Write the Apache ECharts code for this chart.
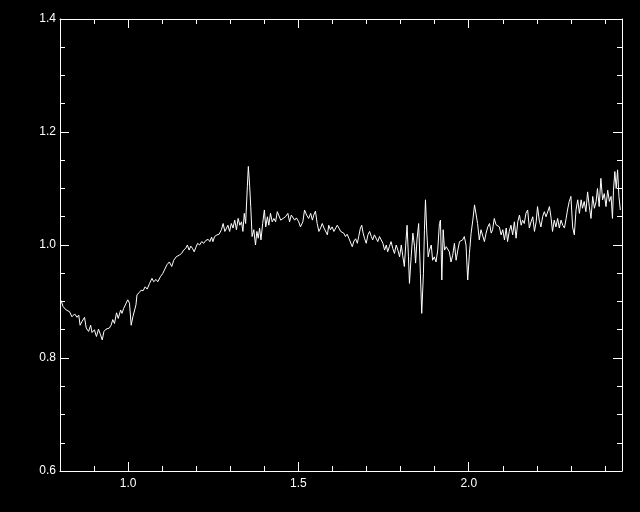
<!DOCTYPE html>
<html>
<head>
<meta charset="utf-8">
<script src="https://cdn.jsdelivr.net/npm/echarts@6/dist/echarts.min.js"></script>
<style>
html,body{margin:0;padding:0;background:#000;}
#chart{width:640px;height:512px;}
</style>
</head>
<body>
<div id="chart"></div>
<script>
// Spectrum samples: [wavelength, relative flux]
const spectrum = [
[0.803,0.902],[0.809,0.891],[0.818,0.885],[0.828,0.882],[0.835,0.873],[0.843,0.878],[0.850,0.872],[0.855,0.876],[0.859,0.858],[0.864,0.864],[0.872,0.872],[0.877,0.853],[0.884,0.847],[0.890,0.858],[0.894,0.845],[0.901,0.850],[0.907,0.838],[0.913,0.851],[0.919,0.841],[0.924,0.832],[0.929,0.847],[0.935,0.851],[0.940,0.854],[0.945,0.853],[0.950,0.858],[0.955,0.868],[0.960,0.861],[0.966,0.880],[0.971,0.870],[0.978,0.885],[0.982,0.879],[0.987,0.888],[0.992,0.891],[0.999,0.903],[1.004,0.897],[1.009,0.858],[1.014,0.873],[1.019,0.876],[1.023,0.894],[1.026,0.912],[1.033,0.916],[1.038,0.920],[1.044,0.919],[1.050,0.926],[1.056,0.922],[1.063,0.932],[1.070,0.941],[1.075,0.935],[1.082,0.939],[1.087,0.935],[1.095,0.944],[1.102,0.950],[1.107,0.947],[1.114,0.965],[1.121,0.970],[1.128,0.962],[1.134,0.973],[1.141,0.979],
[1.150,0.982],[1.157,0.985],[1.163,0.991],[1.169,0.994],[1.174,1.000],[1.179,0.991],[1.184,0.998],[1.189,0.994],[1.194,0.988],[1.199,0.996],[1.204,1.003],[1.210,1.000],[1.216,1.006],[1.222,1.003],[1.228,1.008],[1.235,1.010],[1.240,1.006],[1.245,1.014],[1.249,1.006],[1.254,1.015],[1.261,1.018],[1.267,1.019],[1.274,1.027],[1.279,1.038],[1.284,1.024],[1.289,1.030],[1.293,1.035],[1.298,1.024],[1.303,1.038],[1.308,1.030],[1.313,1.044],[1.318,1.027],[1.323,1.047],[1.328,1.035],[1.333,1.041],[1.337,1.024],[1.341,1.056],[1.345,1.038],[1.350,1.103],[1.353,1.139],[1.357,1.103],[1.360,1.068],[1.364,1.015],[1.369,1.027],[1.374,1.000],[1.378,1.024],[1.382,1.012],[1.386,1.030],[1.390,1.009],[1.395,1.038],[1.400,1.062],[1.404,1.032],[1.409,1.050],[1.413,1.035],[1.418,1.056],[1.423,1.041],[1.428,1.047],[1.433,1.041],[1.438,1.059],[1.443,1.062],[1.448,1.044],[1.455,1.047],[1.462,1.050],[1.469,1.056],
[1.474,1.041],[1.479,1.053],[1.484,1.050],[1.489,1.044],[1.494,1.048],[1.501,1.041],[1.506,1.032],[1.513,1.041],[1.518,1.062],[1.524,1.053],[1.530,1.047],[1.536,1.056],[1.541,1.044],[1.545,1.053],[1.550,1.060],[1.555,1.038],[1.560,1.024],[1.565,1.030],[1.570,1.038],[1.575,1.030],[1.580,1.032],[1.585,1.018],[1.589,1.035],[1.594,1.027],[1.599,1.032],[1.604,1.024],[1.609,1.027],[1.614,1.035],[1.619,1.030],[1.624,1.024],[1.629,1.027],[1.633,1.021],[1.638,1.015],[1.643,1.019],[1.648,1.012],[1.653,1.009],[1.658,0.997],[1.663,1.007],[1.668,1.011],[1.673,1.003],[1.677,1.015],[1.682,1.030],[1.686,1.035],[1.690,1.021],[1.694,1.012],[1.699,1.003],[1.704,1.018],[1.709,1.024],[1.714,1.015],[1.718,1.009],[1.723,1.018],[1.728,1.012],[1.733,1.006],[1.738,1.015],[1.743,1.018],[1.748,1.003],[1.753,0.991],[1.758,1.000],[1.762,0.988],[1.767,0.997],[1.772,1.006],[1.777,0.994],[1.782,0.985],[1.787,1.000],[1.792,0.991],[1.797,0.979],
[1.802,1.000],[1.806,0.982],[1.811,0.962],[1.816,1.009],[1.819,1.035],[1.823,0.979],[1.826,0.932],[1.831,0.979],[1.836,1.021],[1.841,0.997],[1.844,0.968],[1.848,1.009],[1.853,1.038],[1.858,0.950],[1.862,0.879],[1.867,0.950],[1.870,1.027],[1.873,1.080],[1.877,1.021],[1.881,0.979],[1.885,0.991],[1.890,1.000],[1.894,0.973],[1.899,0.979],[1.904,0.970],[1.909,0.991],[1.914,1.038],[1.917,1.044],[1.921,0.938],[1.925,1.027],[1.929,0.991],[1.934,0.997],[1.938,1.000],[1.943,0.988],[1.948,0.970],[1.953,0.982],[1.958,1.003],[1.963,0.973],[1.968,0.991],[1.973,1.006],[1.978,1.003],[1.982,1.009],[1.987,1.015],[1.992,1.000],[1.997,0.938],[2.002,0.985],[2.007,1.021],[2.012,1.044],[2.017,1.071],[2.022,1.068],[2.026,1.038],[2.031,1.009],[2.036,1.027],[2.041,1.024],[2.046,1.006],[2.051,1.021],[2.056,1.032],[2.061,1.038],[2.066,1.021],[2.070,1.027],[2.075,1.047],[2.080,1.036],[2.085,1.034],
[2.090,1.032],[2.095,1.018],[2.100,1.027],[2.105,1.009],[2.110,1.030],[2.114,1.006],[2.119,1.024],[2.124,1.035],[2.129,1.018],[2.134,1.041],[2.139,1.012],[2.144,1.041],[2.149,1.053],[2.154,1.035],[2.158,1.044],[2.163,1.038],[2.168,1.056],[2.173,1.062],[2.178,1.030],[2.183,1.041],[2.188,1.050],[2.193,1.024],[2.198,1.041],[2.202,1.068],[2.207,1.044],[2.212,1.032],[2.217,1.050],[2.222,1.059],[2.227,1.050],[2.232,1.053],[2.237,1.068],[2.242,1.047],[2.246,1.024],[2.251,1.044],[2.256,1.032],[2.261,1.047],[2.266,1.030],[2.271,1.044],[2.276,1.035],[2.281,1.030],[2.286,1.047],[2.290,1.062],[2.295,1.077],[2.300,1.086],[2.305,1.032],[2.310,1.018],[2.315,1.062],[2.320,1.080],[2.325,1.056],[2.330,1.080],[2.334,1.065],[2.339,1.077],[2.344,1.059],[2.349,1.094],[2.354,1.068],[2.359,1.047],[2.364,1.086],[2.369,1.065],[2.374,1.077],[2.378,1.100],[2.383,1.068],[2.388,1.118],[2.393,1.080],[2.398,1.091],[2.403,1.068],[2.408,1.097],[2.413,1.077],[2.418,1.086],[2.422,1.047],[2.425,1.097],[2.429,1.130],[2.433,1.100],[2.437,1.133],[2.441,1.086],[2.445,1.062]
];

const xMajorTicks = [1.0, 1.5, 2.0];
const xMinorTicks = [0.9, 1.1, 1.2, 1.3, 1.4, 1.6, 1.7, 1.8, 1.9, 2.1, 2.2, 2.3, 2.4];
const xRange = [0.8, 2.45];
const yRange = [0.6, 1.4];
const yStep = 0.2;

const WHITE = '#ffffff';
const FONT = 'Liberation Sans';

function xAxisDef(position, ticks, len, showLine, showLabel) {
  return {
    type: 'value', gridIndex: 0, position: position,
    min: xRange[0], max: xRange[1],
    axisLine: { show: showLine, onZero: false, lineStyle: { color: WHITE, width: 1 } },
    axisTick: { show: true, inside: true, length: len, customValues: ticks, lineStyle: { color: WHITE, width: 1 } },
    axisLabel: { show: showLabel, customValues: ticks, color: WHITE, fontFamily: FONT, fontSize: 12, margin: 7,
      formatter: v => Number(v).toFixed(1) },
    splitLine: { show: false }
  };
}
function yAxisDef(position, showLabel) {
  return {
    type: 'value', gridIndex: 0, position: position,
    min: yRange[0], max: yRange[1], interval: yStep,
    axisLine: { show: true, onZero: false, lineStyle: { color: WHITE, width: 1 } },
    axisTick: { show: true, inside: true, length: 9, lineStyle: { color: WHITE, width: 1 } },
    minorTick: { show: true, splitNumber: 4, length: 5, lineStyle: { color: WHITE, width: 1 } },
    axisLabel: { show: showLabel, color: WHITE, fontFamily: FONT, fontSize: 12, margin: 4,
      showMinLabel: true, showMaxLabel: true, formatter: v => Number(v).toFixed(1) },
    splitLine: { show: false }, minorSplitLine: { show: false }
  };
}

const chart = echarts.init(document.getElementById('chart'), null, { renderer: 'canvas' });
chart.setOption({
  backgroundColor: '#000000',
  animation: false,
  grid: { left: 60, right: 18, top: 19, bottom: 41, containLabel: false },
  xAxis: [
    xAxisDef('bottom', xMajorTicks, 9, true, true),
    xAxisDef('bottom', xMinorTicks, 5, false, false),
    xAxisDef('top', xMajorTicks, 9, true, false),
    xAxisDef('top', xMinorTicks, 5, false, false)
  ],
  yAxis: [
    yAxisDef('left', true),
    yAxisDef('right', false)
  ],
  series: [{
    type: 'line',
    xAxisIndex: 0, yAxisIndex: 0,
    data: spectrum,
    showSymbol: false,
    symbol: 'none',
    lineStyle: { color: WHITE, width: 1 },
    silent: true
  }]
});
</script>
</body>
</html>
